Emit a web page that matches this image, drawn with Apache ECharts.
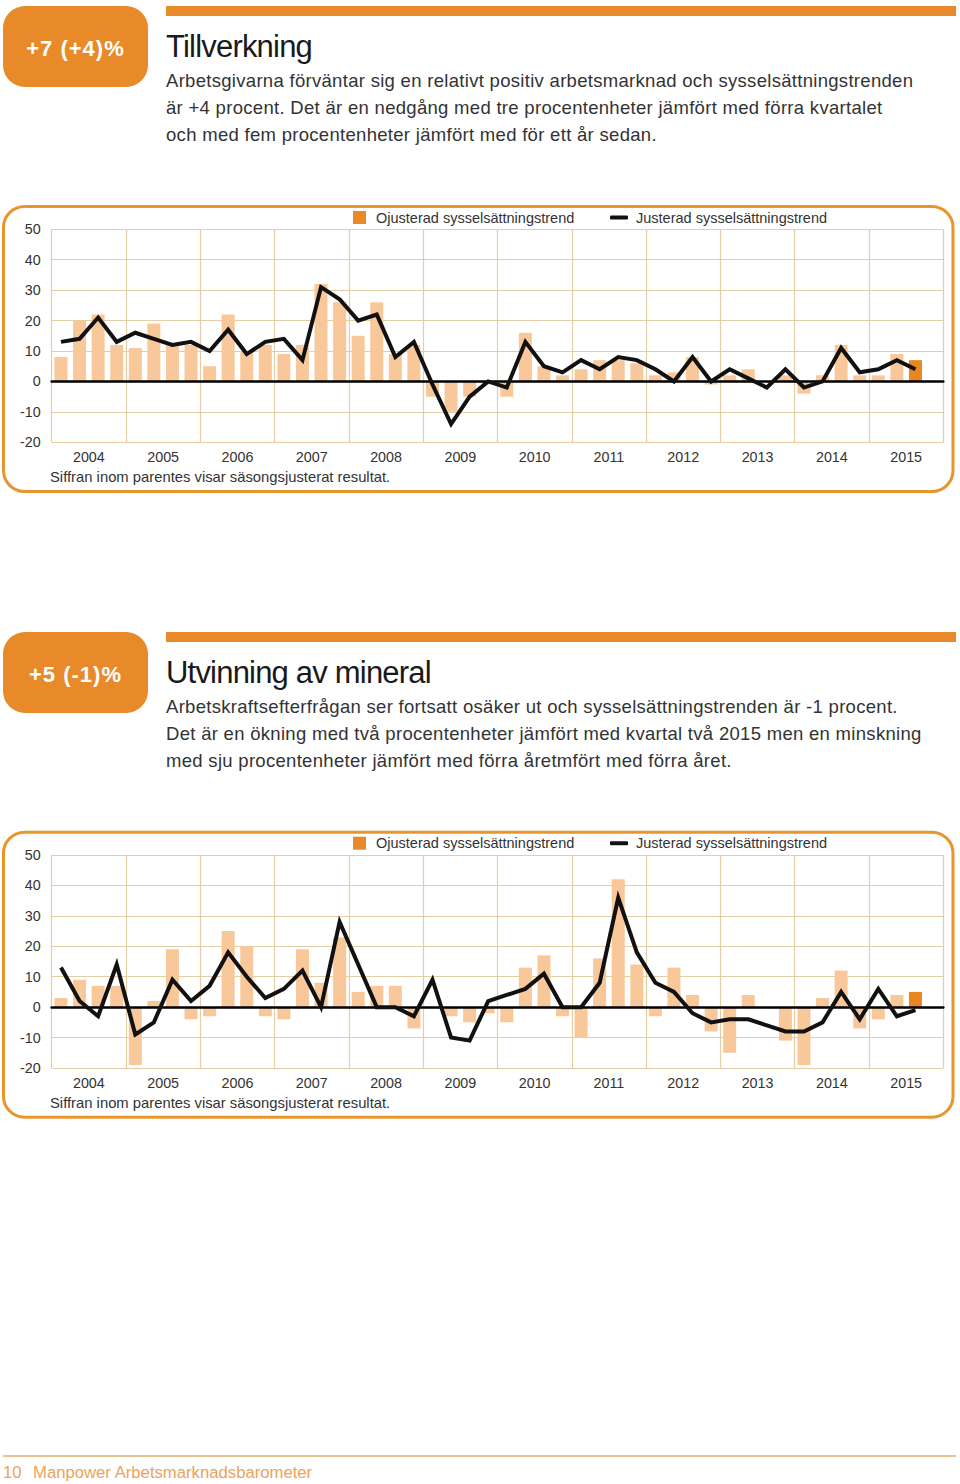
<!DOCTYPE html>
<html>
<head>
<meta charset="utf-8">
<script src="https://cdn.jsdelivr.net/npm/echarts@6.0.0/dist/echarts.min.js"></script>
<style>
  html, body { margin: 0; padding: 0; background: #fff; }
  body { width: 960px; height: 1484px; position: relative; overflow: hidden;
         font-family: 'Liberation Sans', Arial, Helvetica, sans-serif; }
  #chart { position: absolute; left: 0; top: 0; width: 960px; height: 1484px; }
  .badge { position: absolute; left: 3px; width: 145px; height: 81px; border-radius: 22px;
           background: #E8892A; color: #fff; font-weight: bold; font-size: 22px; letter-spacing: 1px;
           text-align: center; line-height: 81px; box-sizing: border-box; padding-top: 2px; z-index: 2; }
  .bar { position: absolute; left: 166px; width: 790px; height: 10px; background: #E8892A; z-index: 2; }
  .title { position: absolute; left: 166px; font-size: 31px; line-height: 31px; color: #1a1a1a;
           letter-spacing: -0.8px; white-space: nowrap; z-index: 2; }
  .para { position: absolute; left: 166px; font-size: 18.5px; line-height: 27px; color: #333;
          letter-spacing: 0.3px; white-space: nowrap; z-index: 2; }
  .footline { position: absolute; left: 3px; top: 1455px; width: 953px; height: 2px; background: #E8C38F; z-index: 2; }
  .foot { position: absolute; top: 1463px; font-size: 16.7px; line-height: 20px; color: #E9A35C; white-space: nowrap; z-index: 2; }
</style>
</head>
<body>
<div id="chart"></div>

<div class="badge" style="top:6px">+7 (+4)%</div>
<div class="bar" style="top:6px"></div>
<div class="title" style="top:30.5px">Tillverkning</div>
<div class="para" style="top:67.2px">Arbetsgivarna förväntar sig en relativt positiv arbetsmarknad och sysselsättningstrenden<br>är +4 procent. Det är en nedgång med tre procentenheter jämfört med förra kvartalet<br>och med fem procentenheter jämfört med för ett år sedan.</div>

<div class="badge" style="top:632px">+5 (-1)%</div>
<div class="bar" style="top:632px"></div>
<div class="title" style="top:656.5px">Utvinning av mineral</div>
<div class="para" style="top:693.2px">Arbetskraftsefterfrågan ser fortsatt osäker ut och sysselsättningstrenden är -1 procent.<br>Det är en ökning med två procentenheter jämfört med kvartal två 2015 men en minskning<br>med sju procentenheter jämfört med förra åretmfört med förra året.</div>

<div class="footline"></div>
<div class="foot" style="left:3px">10</div>
<div class="foot" style="left:33px">Manpower Arbetsmarknadsbarometer</div>

<script>
// ---- data ----
const years = ['2004','2005','2006','2007','2008','2009','2010','2011','2012','2013','2014','2015'];
const quarters = ['Q1','Q2','Q3','Q4'];
const yMin = -20, yMax = 50, yStep = 10;

const seriesBarName = 'Ojusterad sysselsättningstrend';
const seriesLineName = 'Justerad sysselsättningstrend';
const footnote = 'Siffran inom parentes visar säsongsjusterat resultat.';

// Tillverkning
const manufBars = [
  8, 20, 22, 12,
  11, 19, 12, 12,
  5, 22, 10, 12,
  9, 12, 32, 26,
  15, 26, 9, 12,
  -5, -10, -5, -1,
  -5, 16, 5, 2,
  4, 7, 7, 6,
  2, 3, 8, -1,
  2, 4, 0, 2,
  -4, 2, 12, 2,
  2, 9, 7
];
const manufLine = [
  13, 14, 21, 13,
  16, 14, 12, 13,
  10, 17, 9, 13,
  14, 7, 31, 27,
  20, 22, 8, 13,
  -1, -14, -5, 0,
  -2, 13, 5, 3,
  7, 4, 8, 7,
  4, 0, 8, 0,
  4, 1, -2, 4,
  -2, 0, 11, 3,
  4, 7, 4
];

// Utvinning av mineral
const miningBars = [
  3, 9, 7, 7,
  -19, 2, 19, -4,
  -3, 25, 20, -3,
  -4, 19, 8, 23,
  5, 7, 7, -7,
  0, -3, -5, -2,
  -5, 13, 17, -3,
  -10, 16, 42, 14,
  -3, 13, 4, -8,
  -15, 4, 0, -11,
  -19, 3, 12, -7,
  -4, 4, 5
];
const miningLine = [
  13, 2, -3, 14,
  -9, -5, 9, 2,
  7, 18, 10, 3,
  6, 12, 0, 28,
  14, 0, 0, -3,
  9, -10, -11, 2,
  4, 6, 11, 0,
  0, 8, 36, 18,
  8, 5, -2, -5,
  -4, -4, -6, -8,
  -8, -5, 5, -4,
  6, -3, -1
];

// ---- styling ----
const FONT = "'Liberation Sans', Arial, Helvetica, sans-serif";
const LIGHT = '#F8C89A';
const DARK = '#E8861F';
const GRID = '#E5CDA5';
const BORDER = '#E8952E';
const TEXT = '#333333';

const quarterCats = [];
years.forEach(y => quarters.forEach(q => quarterCats.push(y + ' ' + q)));

const option = {
  animation: false,
  grid: [], xAxis: [], yAxis: [], series: [], legend: [], graphic: []
};

function addChart(idx, off, bars, line) {
  const gTop = 229.3 + off;
  option.grid.push({ left: 51.7, top: gTop, width: 891.6, height: 213, containLabel: false });
  // quarter axis (data)
  option.xAxis.push({
    type: 'category', gridIndex: idx, data: quarterCats, boundaryGap: true, position: 'bottom', z: 3,
    axisLine: { show: true, onZero: true, lineStyle: { color: '#000', width: 2.6 } },
    axisTick: { show: false }, axisLabel: { show: false }, splitLine: { show: false }
  });
  // year axis (labels and year dividers)
  option.xAxis.push({
    type: 'category', gridIndex: idx, data: years, boundaryGap: true, position: 'bottom',
    axisLine: { show: false, onZero: false }, axisTick: { show: false },
    axisLabel: { color: TEXT, fontSize: 14.3, fontFamily: FONT, margin: 8 },
    splitLine: { show: true, showMinLine: true, showMaxLine: true, lineStyle: { color: GRID, width: 1.2 } }
  });
  option.yAxis.push({
    type: 'value', gridIndex: idx, min: yMin, max: yMax, interval: yStep,
    axisLine: { show: false }, axisTick: { show: false },
    axisLabel: { color: TEXT, fontSize: 14.3, fontFamily: FONT, margin: 11 },
    splitLine: { show: true, lineStyle: { color: GRID, width: 1.2 } }
  });
  const last = bars.length - 1;
  option.series.push({
    type: 'bar', name: seriesBarName, xAxisIndex: idx * 2, yAxisIndex: idx, data: bars,
    barWidth: 13, silent: true,
    itemStyle: { color: p => (p.dataIndex === last ? DARK : LIGHT) }
  });
  option.series.push({
    type: 'line', name: seriesLineName, xAxisIndex: idx * 2, yAxisIndex: idx, data: line,
    symbol: 'none', showSymbol: false, silent: true, z: 4,
    itemStyle: { color: '#111' },
    lineStyle: { color: '#111', width: 4, join: 'miter', miterLimit: 4 }
  });
  option.legend.push({
    data: [{ name: seriesBarName, itemStyle: { color: '#E8892A' } }],
    left: 353, top: 210 + off, icon: 'rect', itemWidth: 13, itemHeight: 13, padding: 0,
    selectedMode: false,
    textStyle: { color: TEXT, fontSize: 14.5, fontFamily: FONT, padding: [0, 0, 0, 5] }
  });
  option.legend.push({
    data: [{ name: seriesLineName, itemStyle: { color: '#111' } }],
    left: 610, top: 210 + off, icon: 'roundRect', itemWidth: 18, itemHeight: 4, padding: 0,
    selectedMode: false,
    textStyle: { color: TEXT, fontSize: 14.5, fontFamily: FONT, padding: [0, 0, 0, 3] }
  });
  option.graphic.push({
    type: 'rect', silent: true, z: 0,
    shape: { x: 3.5, y: 206.5 + off, width: 949.5, height: 285, r: 21 },
    style: { fill: 'none', stroke: BORDER, lineWidth: 3 }
  });
  option.graphic.push({
    type: 'text', silent: true, x: 50, y: 477 + off,
    style: { text: footnote, fill: TEXT, font: '14.8px ' + FONT, verticalAlign: 'middle' }
  });
}

addChart(0, 0, manufBars, manufLine);
addChart(1, 625.7, miningBars, miningLine);

const chart = echarts.init(document.getElementById('chart'), null, { renderer: 'svg', width: 960, height: 1484 });
chart.setOption(option);
</script>
</body>
</html>
